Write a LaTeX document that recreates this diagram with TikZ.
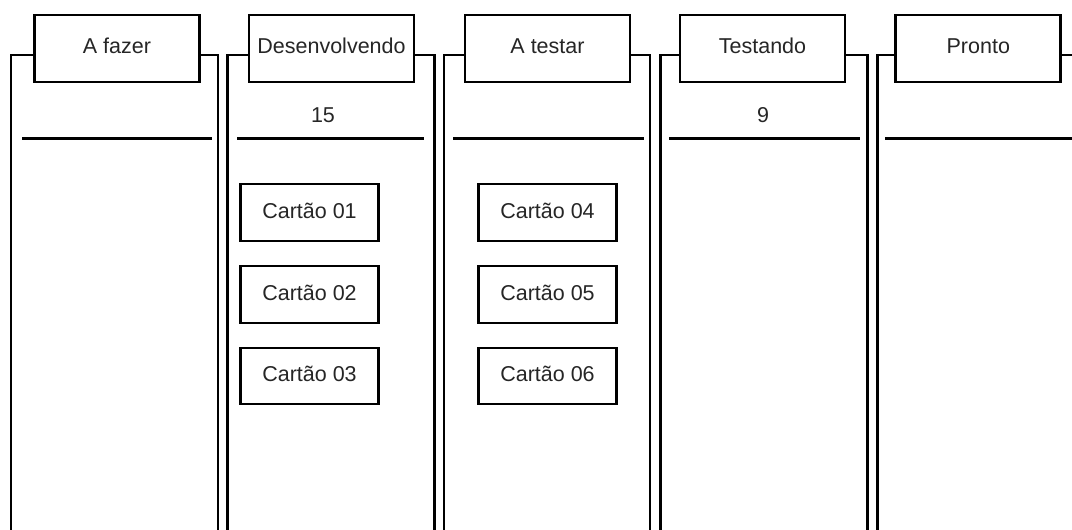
\documentclass[tikz,border=0pt]{standalone}
\usepackage{fontspec}
\setmainfont{Liberation Sans}
\begin{document}
\begin{tikzpicture}[x=1pt,y=-1pt,
  every node/.style={font=\fontsize{21.5}{26}\selectfont, text=black!85},
  colline/.style={line width=2.7pt, line join=miter},
  divline/.style={line width=2.4pt},
  hdrbox/.style={draw, line width=2.7pt, fill=white, minimum width=165pt, minimum height=67pt, inner sep=0pt, text height=15.5pt, text depth=5.1pt},
  cardbox/.style={draw, line width=2.4pt, fill=white, minimum width=138pt, minimum height=56.5pt, inner sep=0pt, text height=15.5pt, text depth=4.1pt},
  countlbl/.style={inner sep=0pt}]
\useasboundingbox (0,0) rectangle (1072,530);
\clip (0,0) rectangle (1072,530);
% columns: left x, right x, header center x, divider from/to
\foreach \L/\R/\H/\da/\db/\n/\t in {
  11/218/117/22/212/1/A fazer,
  227.7/434.5/331.5/237/424/2/Desenvolvendo,
  444/650/547.5/453/644/3/A testar,
  660.7/867.7/762.5/669/860/4/Testando,
  877.7/1084.5/978.3/885/1075/5/Pronto}{
  \draw[colline] (\H,55) -| (\L,545);
  \draw[colline] (\H,55) -| (\R,545);
  \node[hdrbox] (h\n) at (\H,48.5) {\t};
  \coordinate (da\n) at (\da,138.5);
  \coordinate (db\n) at (\db,138.5);
  \draw[divline] (da\n) -- (db\n);
}
\node[countlbl] (n2) at (323,115.3) {15};
\node[countlbl] (n4) at (763,115.3) {9};
\node[cardbox] (c1) at (309.5,212.5) {Cartão 01};
\node[cardbox] (c2) at (309.5,294.5) {Cartão 02};
\node[cardbox] (c3) at (309.5,376) {Cartão 03};
\node[cardbox] (c4) at (547.5,212.5) {Cartão 04};
\node[cardbox] (c5) at (547.5,294.5) {Cartão 05};
\node[cardbox] (c6) at (547.5,376) {Cartão 06};
\end{tikzpicture}
\end{document}
